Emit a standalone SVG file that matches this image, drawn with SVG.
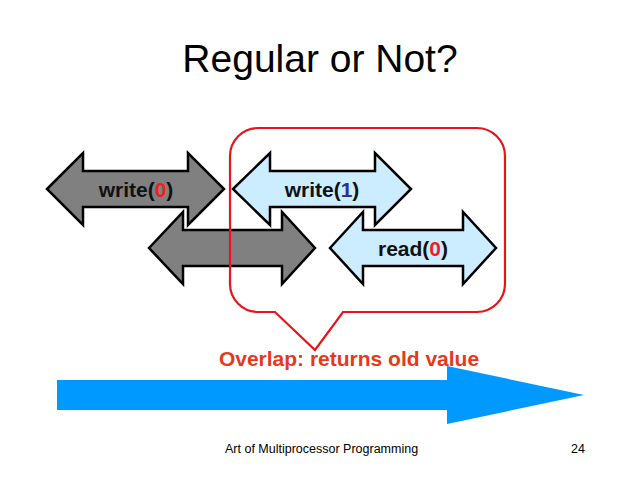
<svg xmlns="http://www.w3.org/2000/svg" width="640" height="480" viewBox="0 0 640 480">
<style>
.gray{fill:#808080;stroke:#000;stroke-width:2.5;stroke-linejoin:miter}
.lb{fill:#CCECFF;stroke:#000;stroke-width:2.5;stroke-linejoin:miter}
.lbl{font-family:"Liberation Sans",Arial,sans-serif;font-weight:bold;font-size:21px;fill:#111;text-anchor:middle}
.red{fill:#F01E1E}
.blue{fill:#2E3192}
</style>
<rect width="640" height="480" fill="#fff"/>
<text x="320" y="72" font-family="'Liberation Sans',Arial,sans-serif" font-size="39" text-anchor="middle" fill="#000">Regular or Not?</text>
<g id="gray2"><polygon class="gray" points="149,248 183,212 183,230 282,230 282,212 315,248 282,284 282,266 183,266 183,284"/></g>
<g id="write0"><polygon class="gray" points="47,189 83,153 83,171 188,171 188,153 224,189 188,225 188,207 83,207 83,225"/>
<text class="lbl" x="136" y="197">write(<tspan class="red">0</tspan>)</text></g>
<g id="read0"><polygon class="lb" points="330,248 363,212 363,230 463,230 463,212 496,248 463,284 463,266 363,266 363,284"/>
<text class="lbl" x="413" y="256">read(<tspan class="red">0</tspan>)</text></g>
<g id="write1"><polygon class="lb" points="233,189 270,153 270,171 375,171 375,153 411,189 375,225 375,207 270,207 270,225"/>
<text class="lbl" x="322" y="197">write(<tspan class="blue">1</tspan>)</text></g>
<g id="callout"><path d="M258,128 H477 A28,28 0 0 1 505,156 V284 A28,28 0 0 1 477,312 H343 L315,350 L275,312 H258 A28,28 0 0 1 230,284 V156 A28,28 0 0 1 258,128 Z" fill="none" stroke="#E8141A" stroke-width="2.2"/>
<text x="349" y="366" font-family="'Liberation Sans',Arial,sans-serif" font-weight="bold" font-size="21" text-anchor="middle" fill="#E8381C">Overlap: returns old value</text></g>
<g id="time"><polygon points="57,380 447,380 447,366 584,395 447,424 447,410 57,410" fill="#0099FF"/></g>
<text x="225" y="453" font-family="'Liberation Sans',Arial,sans-serif" font-size="12.5" fill="#000">Art of Multiprocessor Programming</text>
<text x="585" y="453" font-family="'Liberation Sans',Arial,sans-serif" font-size="12.5" fill="#000" text-anchor="end">24</text>
</svg>
